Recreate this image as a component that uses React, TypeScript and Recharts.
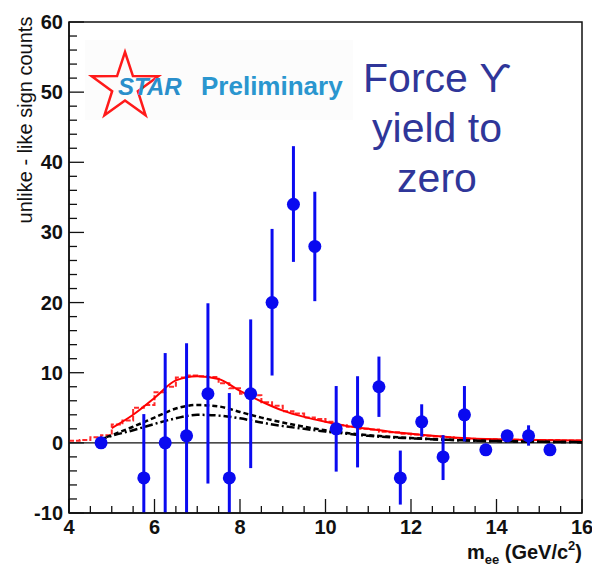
import React from 'react';
import {
  ComposedChart,
  Line,
  Scatter,
  ErrorBar,
  XAxis,
  YAxis,
  ReferenceLine,
  ReferenceArea,
} from 'recharts';

// ---------- data ----------
const massBins = [4.75, 5.75, 6.25, 6.75, 7.25, 7.75, 8.25, 8.75, 9.25, 9.75, 10.25, 10.75, 11.25, 11.75, 12.25, 12.75, 13.25, 13.75, 14.25, 14.75, 15.25];
const counts = [0, -5, 0, 1, 7, -5, 7, 20, 34, 28, 2, 3, 8, -5, 3, -2, 4, -1, 1, 1, -1];
const lowerEnds = [0, -10, -10, -10, -5.8, -10, -3.6, 9.6, 25.8, 20.2, -4.1, -3.5, 3.7, -8.8, 0.9, -5.3, 0.2, -1, 1, -0.4, -1];
const upperEnds = [0, 4.1, 12.8, 14.2, 19.9, 7.1, 17.6, 30.5, 42.3, 35.8, 8.1, 9.5, 12.3, -1.1, 5.5, 1.1, 8.1, -1, 1, 2.5, -1];

// red smooth fit curve
const fitX = [5, 5.5, 6, 6.5, 7, 7.5, 8, 8.5, 9, 9.5, 10, 10.5, 11, 11.5, 12, 12.5, 13, 13.5, 14, 14.5, 15, 15.5, 16];
const fitY = [2.1, 4.0, 6.4, 8.9, 9.5, 9.1, 7.4, 5.9, 4.6, 3.7, 3.0, 2.4, 2.0, 1.6, 1.3, 1.0, 0.75, 0.6, 0.5, 0.45, 0.4, 0.38, 0.35];

// red dashed histogram (step)
const histX = [4, 4.25, 4.5, 4.75, 5, 5.25, 5.5, 5.75, 6, 6.25, 6.5, 6.75, 7, 7.25, 7.5, 7.75, 8, 8.25, 8.5, 8.75, 9, 9.25, 9.5, 9.75, 10, 10.25, 10.5, 10.75, 11, 11.25, 11.5, 11.75, 12, 12.25, 12.5, 12.75, 13, 13.25, 13.5, 13.75, 14, 14.5, 15, 15.5, 16];
const histY = [0.3, 0.4, 0.8, 1.1, 2.6, 3.2, 5.0, 5.4, 7.2, 8.0, 9.3, 9.6, 9.5, 9.4, 8.5, 7.8, 7.0, 6.8, 5.8, 5.3, 4.5, 4.2, 3.6, 3.4, 3.0, 2.5, 2.3, 2.0, 1.9, 1.6, 1.5, 1.3, 1.2, 1.0, 0.9, 0.8, 0.7, 0.6, 0.55, 0.5, 0.45, 0.4, 0.4, 0.35, 0.35];

// black dashed curve
const dashX = [4.7, 5, 5.5, 6, 6.5, 7, 7.5, 8, 8.5, 9, 9.5, 10, 10.5, 11, 12, 13, 14, 15, 16];
const dashY = [0.4, 1.1, 2.3, 3.6, 4.9, 5.4, 5.2, 4.4, 3.6, 2.9, 2.3, 1.8, 1.4, 1.1, 0.7, 0.4, 0.25, 0.15, 0.1];

// black dash-dot curve
const dotDashX = [4.7, 5, 5.5, 6, 6.5, 7, 7.5, 8, 8.5, 9, 9.5, 10, 10.5, 11, 12, 13, 14, 15, 16];
const dotDashY = [0.4, 1.0, 1.8, 2.7, 3.5, 4.0, 3.9, 3.5, 2.9, 2.4, 2.0, 1.6, 1.3, 1.0, 0.65, 0.4, 0.25, 0.15, 0.1];

const xMajor = [4, 6, 8, 10, 12, 14, 16];
const yMajor = [-10, 0, 10, 20, 30, 40, 50, 60];

// ---------- derived tables ----------
const points = massBins.map((x, i) => ({
  x,
  y: counts[i],
  err: [counts[i] - lowerEnds[i], upperEnds[i] - counts[i]],
}));
const fitData = fitX.map((x, i) => ({ x, y: fitY[i] }));
const histData = histX.map((x, i) => ({ x, y: histY[i] }));
const dashData = dashX.map((x, i) => ({ x, y: dashY[i] }));
const dotDashData = dotDashX.map((x, i) => ({ x, y: dotDashY[i] }));

const xTicks: number[] = [];
for (let v = 4; v <= 16.001; v += 0.5) xTicks.push(Math.round(v * 10) / 10);
const yTicks: number[] = [];
for (let v = -10; v <= 60; v += 2) yTicks.push(v);

// ---------- layout ----------
const W = 592;
const H = 568;
const PLOT_LEFT = 69;
const PLOT_RIGHT = 582;
const PLOT_TOP = 22;
const PLOT_BOTTOM = 513;
const FONT = '"Liberation Sans", Arial, "DejaVu Sans", sans-serif';
const BLUE = '#0a0af0';

const XTick = (props: any) => {
  const { x, payload } = props;
  const v = payload.value;
  const major = xMajor.includes(v);
  return (
    <g>
      <line x1={x} x2={x} y1={PLOT_BOTTOM} y2={PLOT_BOTTOM - (major ? 14 : 7)} stroke="#111" strokeWidth={1.3} />
      {major && (
        <text x={x} y={PLOT_BOTTOM + 21} textAnchor="middle" fontFamily={FONT} fontWeight="bold" fontSize={20} fill="#111">
          {v}
        </text>
      )}
    </g>
  );
};

const YTick = (props: any) => {
  const { y, payload } = props;
  const v = payload.value;
  const major = yMajor.includes(v);
  return (
    <g>
      <line x1={PLOT_LEFT} x2={PLOT_LEFT + (major ? 15 : 8)} y1={y} y2={y} stroke="#111" strokeWidth={1.3} />
      {major && (
        <text x={PLOT_LEFT - 6} y={y + 7} textAnchor="end" fontFamily={FONT} fontWeight="bold" fontSize={20} fill="#111">
          {v}
        </text>
      )}
    </g>
  );
};

const Dot = (props: any) => {
  const { cx, cy } = props;
  return <circle cx={cx} cy={cy} r={6.5} fill={BLUE} />;
};

function starPoints(cx: number, cy: number, R: number, r: number) {
  const pts: string[] = [];
  for (let i = 0; i < 10; i++) {
    const a = (-90 + i * 36) * (Math.PI / 180);
    const rad = i % 2 === 0 ? R : r;
    pts.push(`${cx + rad * Math.cos(a)},${cy + rad * Math.sin(a)}`);
  }
  return pts.join(' ');
}

export default function App() {
  return (
    <div style={{ position: 'absolute', left: 0, top: 0, width: W, height: H, background: '#fff' }}>
      <ComposedChart
        width={W}
        height={H}
        margin={{ top: PLOT_TOP, right: W - PLOT_RIGHT, bottom: 0, left: 0 }}
      >
        <XAxis
          dataKey="x"
          type="number"
          domain={[4, 16]}
          ticks={xTicks}
          interval={0}
          allowDataOverflow
          height={H - PLOT_BOTTOM}
          tickSize={0}
          tickMargin={0}
          tickLine={false}
          tick={<XTick />}
          axisLine={{ stroke: '#111', strokeWidth: 1.5 }}
        />
        <YAxis
          type="number"
          domain={[-10, 60]}
          ticks={yTicks}
          interval={0}
          allowDataOverflow
          width={PLOT_LEFT}
          tickSize={0}
          tickMargin={0}
          tickLine={false}
          tick={<YTick />}
          axisLine={{ stroke: '#111', strokeWidth: 1.5 }}
        />
        <ReferenceArea x1={4} x2={16} y1={-10} y2={60} fill="none" fillOpacity={0} stroke="#111" strokeWidth={1.5} />
        <ReferenceLine y={0} stroke="#111" strokeWidth={1.2} />
        <Line data={histData} dataKey="y" type="stepAfter" stroke="#ff2a2a" strokeWidth={2} strokeDasharray="5 2" dot={false} isAnimationActive={false} />
        <Line data={fitData} dataKey="y" type="monotone" stroke="#ff0000" strokeWidth={2} dot={false} isAnimationActive={false} />
        <Line data={dashData} dataKey="y" type="monotone" stroke="#000" strokeWidth={2.5} strokeDasharray="5 3" dot={false} isAnimationActive={false} />
        <Line data={dotDashData} dataKey="y" type="monotone" stroke="#000" strokeWidth={2.5} strokeDasharray="8 3 2 3" dot={false} isAnimationActive={false} />
        <Scatter data={points} dataKey="y" shape={<Dot />} isAnimationActive={false}>
          <ErrorBar dataKey="err" direction="y" width={0} stroke={BLUE} strokeWidth={3} isAnimationActive={false} />
        </Scatter>
      </ComposedChart>
      <svg
        width={W}
        height={H}
        style={{ position: 'absolute', left: 0, top: 0, pointerEvents: 'none' }}
      >
        <rect x={85} y={40} width={268} height={80} fill="#fcfcfc" />
        <polygon points={starPoints(125, 87, 35, 13.5)} fill="none" stroke="#ff1a1a" strokeWidth={2.5} />
        <text x={118} y={95} fontFamily={FONT} fontStyle="italic" fontWeight="bold" fontSize={24} fill="#2a8fcb">
          STAR
        </text>
        <text x={201} y={95} fontFamily={FONT} fontWeight="bold" fontSize={26} fill="#2a96cf">
          Preliminary
        </text>
        <g fontFamily={FONT} fontSize={41} fill="#2f3699" textAnchor="middle">
          <text x={437} y={92}>Force ϒ</text>
          <text x={437} y={142}>yield to</text>
          <text x={437} y={192}>zero</text>
        </g>
        <text
          x={0}
          y={0}
          transform="translate(25,120) rotate(-90)"
          textAnchor="middle"
          dominantBaseline="central"
          fontFamily={FONT}
          fontSize={20}
          fill="#111"
        >
          unlike - like sign counts
        </text>
        <text x={582} y={559} textAnchor="end" fontFamily={FONT} fontWeight="bold" fontSize={20} fill="#111">
          m<tspan fontSize={13} dy={5}>ee</tspan>
          <tspan dy={-5}> (GeV/c</tspan>
          <tspan fontSize={13} dy={-9}>2</tspan>
          <tspan dy={9}>)</tspan>
        </text>
      </svg>
    </div>
  );
}
